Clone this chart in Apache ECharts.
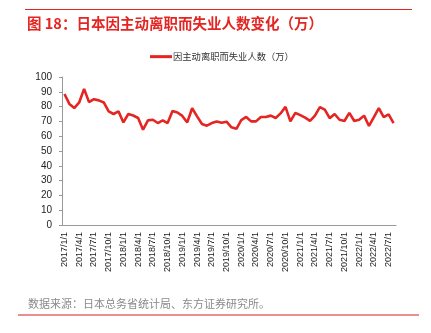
<!DOCTYPE html>
<html>
<head>
<meta charset="utf-8">
<script src="https://cdn.jsdelivr.net/npm/echarts@6/dist/echarts.min.js"></script>
<style>
  html, body { margin: 0; padding: 0; background: #fff; }
  #chart { width: 431px; height: 333px; }
</style>
</head>
<body>
<div id="chart"></div>
<script>
// Monthly categories, 2017/1/1 through 2022/8/1
const months = [
  '2017/1/1','2017/2/1','2017/3/1','2017/4/1','2017/5/1','2017/6/1','2017/7/1','2017/8/1','2017/9/1','2017/10/1','2017/11/1','2017/12/1',
  '2018/1/1','2018/2/1','2018/3/1','2018/4/1','2018/5/1','2018/6/1','2018/7/1','2018/8/1','2018/9/1','2018/10/1','2018/11/1','2018/12/1',
  '2019/1/1','2019/2/1','2019/3/1','2019/4/1','2019/5/1','2019/6/1','2019/7/1','2019/8/1','2019/9/1','2019/10/1','2019/11/1','2019/12/1',
  '2020/1/1','2020/2/1','2020/3/1','2020/4/1','2020/5/1','2020/6/1','2020/7/1','2020/8/1','2020/9/1','2020/10/1','2020/11/1','2020/12/1',
  '2021/1/1','2021/2/1','2021/3/1','2021/4/1','2021/5/1','2021/6/1','2021/7/1','2021/8/1','2021/9/1','2021/10/1','2021/11/1','2021/12/1',
  '2022/1/1','2022/2/1','2022/3/1','2022/4/1','2022/5/1','2022/6/1','2022/7/1','2022/8/1'
];

// Unemployed due to voluntary resignation (10k persons)
const voluntaryUnemployed = [
  88.5, 81.8, 79.0, 82.8, 92.0, 83.0, 85.0, 84.2, 82.8, 76.8, 75.0, 76.8,
  69.3, 75.0, 74.0, 72.3, 64.4, 70.7, 71.1, 68.9, 70.7, 68.9, 77.0, 76.0,
  73.7, 69.3, 78.9, 73.4, 68.2, 67.1, 68.9, 70.0, 69.1, 69.8, 66.0, 65.0,
  70.9, 73.0, 70.0, 70.0, 73.0, 73.0, 73.9, 72.3, 75.4, 79.8, 70.0, 75.8,
  74.2, 72.5, 70.3, 73.9, 79.7, 77.9, 72.2, 75.0, 71.1, 70.3, 75.8, 70.3,
  71.1, 73.9, 66.9, 72.9, 79.0, 72.9, 74.7, 68.9
];

const seriesName = '因主动离职而失业人数（万）';
const titleText = '图 18：日本因主动离职而失业人数变化（万）';
const sourceText = '数据来源：日本总务省统计局、东方证券研究所。';

const red = '#e42522';
const latin = '"Liberation Sans", Arial, sans-serif';
const cjk = '"Noto Sans CJK SC", "Liberation Sans", sans-serif';

const chart = echarts.init(document.getElementById('chart'), null, { renderer: 'canvas' });

chart.setOption({
  animation: false,
  backgroundColor: '#fff',
  title: {
    text: titleText,
    left: 22,
    top: 11,
    textStyle: { color: red, fontSize: 14.5, fontWeight: 'bold', fontFamily: cjk }
  },
  legend: {
    data: [seriesName],
    top: 47,
    left: 145,
    icon: 'rect',
    itemWidth: 22,
    itemHeight: 3,
    itemGap: 4,
    textStyle: { fontSize: 9.3, color: '#333', fontFamily: cjk, padding: [0, 0, 0, -4] }
  },
  grid: { left: 62, right: 35, top: 77, bottom: 108 },
  xAxis: {
    type: 'category',
    data: months,
    boundaryGap: true,
    axisLine: { lineStyle: { color: '#999', width: 1 } },
    axisTick: { interval: 0, inside: true, length: 3, lineStyle: { color: '#bbb' } },
    axisLabel: {
      interval: 2,
      rotate: 90,
      margin: 7,
      fontSize: 9,
      color: '#222',
      fontFamily: latin
    }
  },
  yAxis: {
    type: 'value',
    min: 0,
    max: 100,
    interval: 10,
    axisLine: { show: true, lineStyle: { color: '#999', width: 1 } },
    axisTick: { show: true, length: 3, lineStyle: { color: '#999' } },
    splitLine: { show: false },
    axisLabel: { fontSize: 10, color: '#222', margin: 10, fontFamily: latin }
  },
  series: [{
    name: seriesName,
    type: 'line',
    data: voluntaryUnemployed,
    showSymbol: false,
    symbol: 'none',
    lineStyle: { color: red, width: 2.6 },
    itemStyle: { color: red }
  }],
  graphic: [
    {
      type: 'line',
      shape: { x1: 25, y1: 9.5, x2: 412, y2: 9.5 },
      style: { stroke: red, lineWidth: 1.2 }
    },
    {
      type: 'text',
      left: 28,
      top: 298,
      style: { text: sourceText, fontSize: 11, fill: '#8a8a8a', fontFamily: cjk }
    },
    {
      type: 'line',
      shape: { x1: 18, y1: 315, x2: 419, y2: 315 },
      style: { stroke: '#e46a68', lineWidth: 1.3 }
    }
  ]
});
</script>
</body>
</html>
